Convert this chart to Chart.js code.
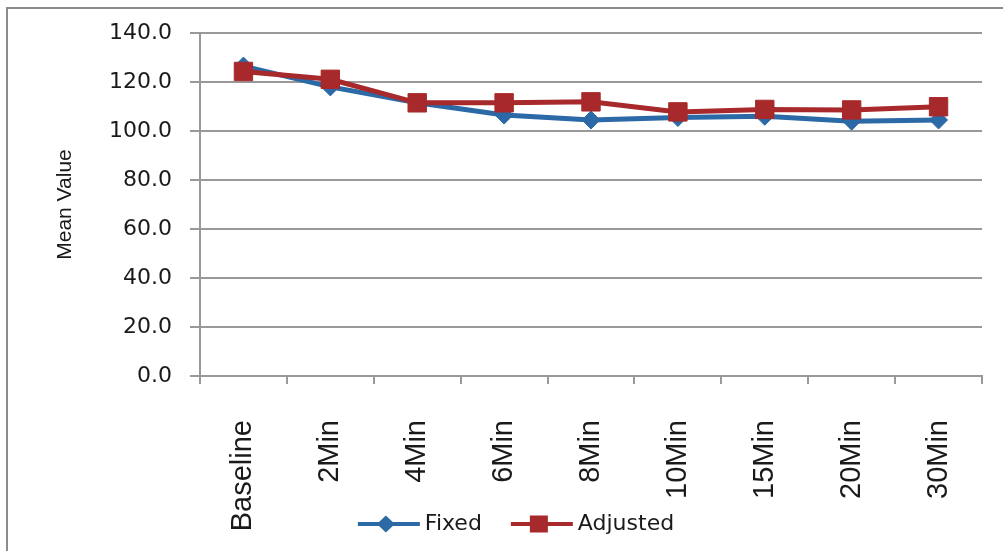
<!DOCTYPE html>
<html>
<head>
<meta charset="utf-8">
<script src="https://cdn.jsdelivr.net/npm/chart.js@4.4.0/dist/chart.umd.min.js"></script>
<style>
    html, body { margin: 0; padding: 0; overflow: hidden; background: #fff; }
    #frame { position: absolute; left: 6px; top: 7px; width: 1100px; height: 700px; border: 2px solid #8c8c8c; }
    #wrap { position: absolute; left: 0; top: 0; width: 1003px; height: 551px; }
</style>
</head>
<body>
<div id="frame"></div>
<div id="wrap"><canvas id="myChart" width="1003" height="551"></canvas></div>
<script>
var categories = ['Baseline', '2Min', '4Min', '6Min', '8Min', '10Min', '15Min', '20Min', '30Min'];
var fixedValues = [126.5, 118.0, 111.5, 106.5, 104.5, 105.5, 106.0, 104.0, 104.5];
var adjustedValues = [124.3, 121.1, 111.5, 111.5, 111.9, 107.8, 108.8, 108.6, 109.9];
var yMin = 0;
var yMax = 140;
var yStep = 20;

var blue = '#2b69a7';
var red = '#a8292b';
var gridGray = '#999999';
var textColor = '#1a1a1a';

// legend under the axis labels: line + marker, then the name
var bottomLegend = {
    id: 'bottomLegend',
    afterDraw: function (chart) {
        var ctx = chart.ctx;
        var sets = chart.data.datasets;
        var lineLen = 62, gapText = 5, gapItem = 29, cy = 524;
        ctx.save();
        ctx.font = '22px "DejaVu Sans"';
        var total = 0;
        sets.forEach(function (ds, i) {
            total += lineLen + gapText + ctx.measureText(ds.label).width;
            if (i > 0) total += gapItem;
        });
        var x = 516 - total / 2;
        sets.forEach(function (ds) {
            ctx.strokeStyle = ds.borderColor;
            ctx.fillStyle = ds.borderColor;
            ctx.lineWidth = 4;
            ctx.beginPath();
            ctx.moveTo(x, cy);
            ctx.lineTo(x + lineLen, cy);
            ctx.stroke();
            var mx = x + lineLen / 2 - 3;
            if (ds.pointStyle === 'rectRot') {
                ctx.beginPath();
                ctx.moveTo(mx, cy - 8.5);
                ctx.lineTo(mx + 9, cy);
                ctx.lineTo(mx, cy + 8.5);
                ctx.lineTo(mx - 9, cy);
                ctx.closePath();
                ctx.fill();
            } else {
                ctx.fillRect(mx - 9, cy - 8.5, 18, 17);
            }
            x += lineLen + gapText;
            ctx.fillStyle = textColor;
            ctx.textBaseline = 'middle';
            ctx.textAlign = 'left';
            ctx.fillText(ds.label, x, cy);
            x += ctx.measureText(ds.label).width + gapItem;
        });
        ctx.restore();
    }
};

function createChart() {
    var ctx = document.getElementById('myChart').getContext('2d');
    return new Chart(ctx, {
        type: 'line',
        data: {
            labels: categories,
            datasets: [{
                label: 'Fixed',
                data: fixedValues,
                borderColor: blue,
                backgroundColor: blue,
                borderWidth: 5,
                pointStyle: 'rectRot',
                pointRadius: 9,
                pointBorderWidth: 1,
                tension: 0,
                order: 1
            }, {
                label: 'Adjusted',
                data: adjustedValues,
                borderColor: red,
                backgroundColor: red,
                borderWidth: 5,
                pointStyle: 'rect',
                pointRadius: 13,
                pointBorderWidth: 1,
                tension: 0,
                order: 0
            }]
        },
        plugins: [bottomLegend],
        options: {
            responsive: false,
            animation: false,
            devicePixelRatio: 1,
            layout: {
                padding: { left: 36, right: 21, top: 33, bottom: 0 }
            },
            plugins: {
                tooltip: { enabled: false },
                legend: { display: false }
            },
            scales: {
                x: {
                    offset: true,
                    grid: {
                        offset: true,
                        drawOnChartArea: false,
                        drawTicks: true,
                        tickLength: 8,
                        color: gridGray,
                        lineWidth: 2
                    },
                    border: { display: true, color: gridGray, width: 2 },
                    ticks: {
                        minRotation: 90,
                        maxRotation: 90,
                        autoSkip: false,
                        padding: 36,
                        color: textColor,
                        font: { family: 'Liberation Sans', size: 29 }
                    },
                    afterFit: function (s) {
                        s.height = s.chart.height - 376;
                        s.paddingLeft = 0;
                        s.paddingRight = 0;
                    }
                },
                y: {
                    min: yMin,
                    max: yMax,
                    grid: {
                        color: gridGray,
                        lineWidth: 2,
                        tickLength: 10
                    },
                    border: { display: true, color: gridGray, width: 2 },
                    ticks: {
                        stepSize: yStep,
                        padding: 18,
                        color: textColor,
                        font: { family: 'DejaVu Sans', size: 22 },
                        callback: function (v) { return v.toFixed(1); }
                    },
                    title: {
                        display: true,
                        text: 'Mean Value',
                        color: textColor,
                        padding: { top: 17, bottom: 0 },
                        font: { family: 'Liberation Sans', size: 21 }
                    },
                    afterFit: function (s) {
                        s.width = 164;
                    }
                }
            }
        }
    });
}

var myChart = createChart();
</script>
</body>
</html>
